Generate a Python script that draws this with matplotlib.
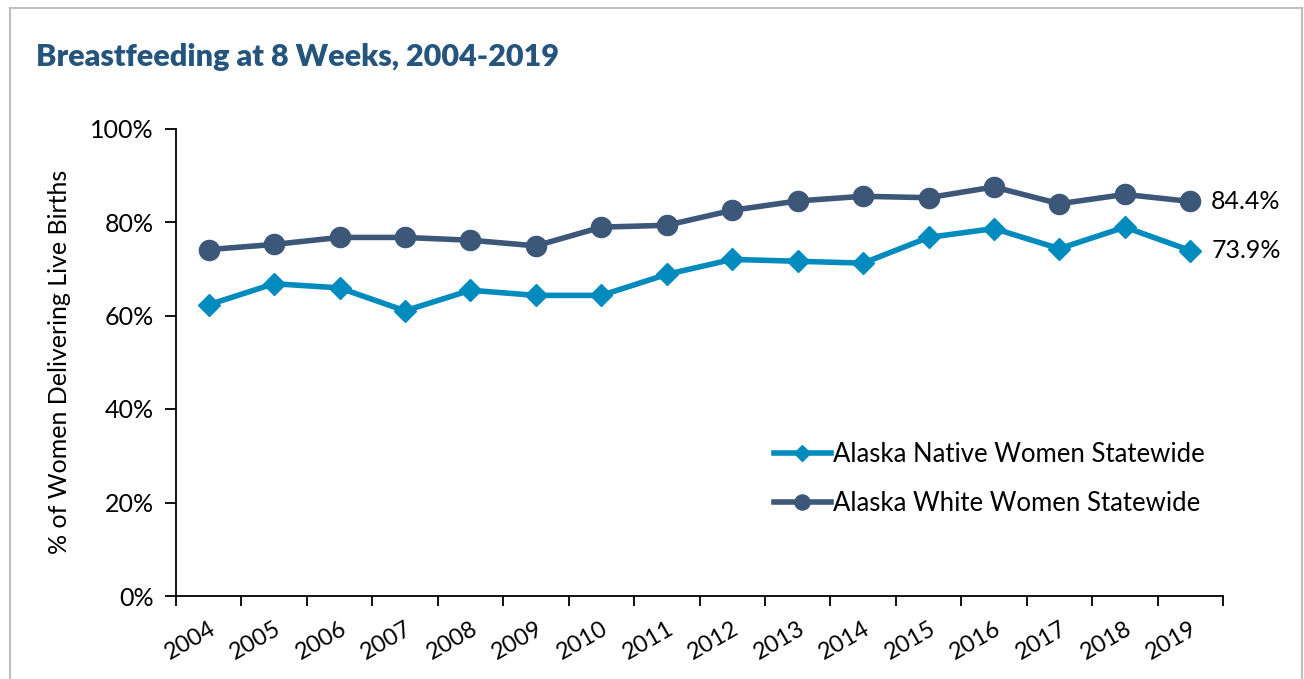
import numpy as np
import matplotlib
matplotlib.use('Agg')
import matplotlib.pyplot as plt
from matplotlib.patches import Rectangle

years = [str(y) for y in range(2004, 2020)]
native = [62.3, 66.8, 65.9, 61.0, 65.4, 64.3, 64.3, 68.8, 72.0, 71.6, 71.2, 76.7, 78.6, 74.3, 78.9, 73.9]
white = [74.1, 75.2, 76.7, 76.7, 76.1, 74.9, 78.9, 79.3, 82.5, 84.5, 85.5, 85.2, 87.5, 83.9, 85.9, 84.4]
yticks = [0, 20, 40, 60, 80, 100]

c_native = '#008bbe'
c_white = '#3d5778'
c_title = '#25547d'

plt.rcParams['font.family'] = ['Lato', 'DejaVu Sans']

fig = plt.figure(figsize=(13.04, 6.79), dpi=100)
ax = fig.add_axes([176/1304, 1 - 596/679, (1223 - 176)/1304, (596 - 128.5)/679])

# grey frame round the whole chart
fig.patches.append(Rectangle((10/1304, -0.1), (1302 - 10)/1304, 1.1 - 8/679,
                             transform=fig.transFigure, fill=False,
                             edgecolor='#bfbfbf', linewidth=1.5))

x = np.arange(len(years))
ax.plot(x, native, color=c_native, lw=4, marker='D', ms=11,
        label='Alaska Native Women Statewide', solid_joinstyle='round')
ax.plot(x, white, color=c_white, lw=4, marker='o', ms=14.5,
        label='Alaska White Women Statewide', solid_joinstyle='round')

ax.text(x[-1] + 0.32, white[-1], '%.1f%%' % white[-1], fontsize=18, va='center', ha='left')
ax.text(x[-1] + 0.32, native[-1], '%.1f%%' % native[-1], fontsize=18, va='center', ha='left')

ax.set_xlim(-0.5, len(years) - 0.5)
ax.set_ylim(0, 100)
ax.set_yticks(yticks)
ax.set_yticklabels(['%d%%' % v for v in yticks], fontsize=18)
ax.set_xticks(np.arange(-0.5, len(years)), minor=False)
ax.set_xticklabels([])
ax.set_xticks(x, minor=True)
ax.set_xticklabels(years, minor=True, fontsize=17, rotation=30, ha='right',
                   va='top', rotation_mode='anchor')
ax.tick_params(axis='x', which='minor', length=0, pad=16)
ax.tick_params(axis='x', which='major', length=7, width=1.3, direction='out')
ax.tick_params(axis='y', length=8, width=1.3, direction='out', pad=8)
for s in ['top', 'right']:
    ax.spines[s].set_visible(False)
for s in ['left', 'bottom']:
    ax.spines[s].set_linewidth(1.3)
ax.set_ylabel('% of Women Delivering Live Births', fontsize=18, labelpad=14)

fig.text(36/1304, 1 - 57/679, 'Breastfeeding at 8 Weeks, 2004-2019', fontsize=22,
         fontweight='heavy', color=c_title, va='center', ha='left')

leg = ax.legend(loc='upper left', bbox_to_anchor=(774/1304, 1 - 442/679),
                bbox_transform=fig.transFigure, frameon=False, fontsize=18.5,
                handlelength=2.2, handletextpad=0.1, labelspacing=0.95,
                markerscale=0.75, borderaxespad=0, borderpad=0)

fig.savefig('out.png', dpi=100)
